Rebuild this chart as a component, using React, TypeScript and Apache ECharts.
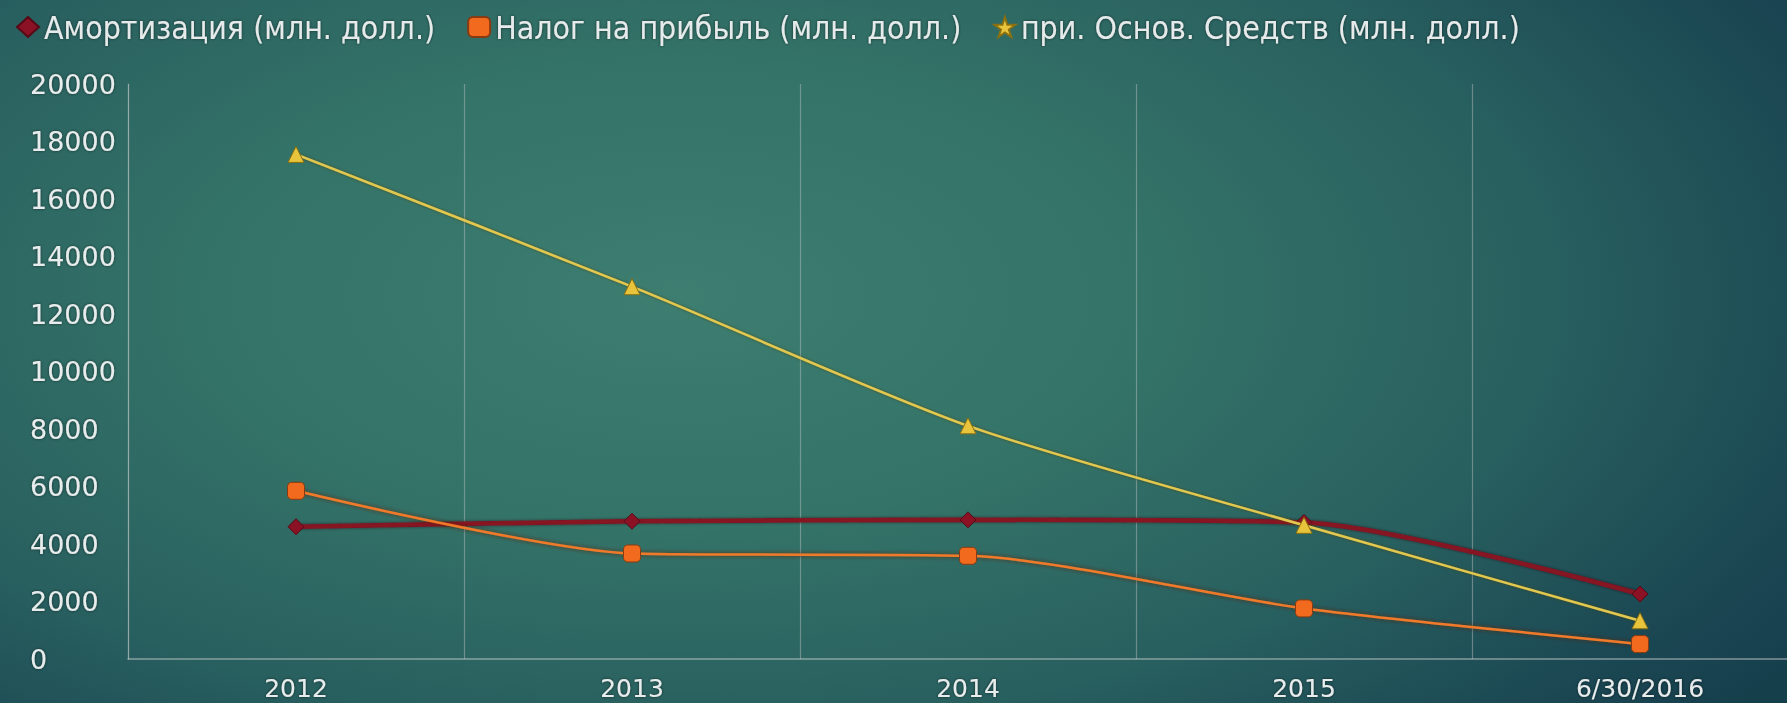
import React, { useEffect, useRef } from "react";
import * as echarts from "echarts";

const categories = ["2012", "2013", "2014", "2015", "6/30/2016"];
const amortization = [4600, 4790, 4840, 4750, 2260];
const incomeTax = [5850, 3670, 3590, 1760, 520];
const fixedAssets = [17550, 12950, 8110, 4650, 1330];
const yTicks = { min: 0, max: 20000, interval: 2000 };

const seriesNames = [
  "Амортизация (млн. долл.)",
  "Налог на прибыль (млн. долл.)",
  "при. Основ. Средств (млн. долл.)",
];

const starPath =
  "path://M50,0 L61,35 L98,35 L68,57 L79,91 L50,70 L21,91 L32,57 L2,35 L39,35 Z";

export default function App() {
  const ref = useRef<HTMLDivElement>(null);

  useEffect(() => {
    document.body.style.margin = "0";
    document.body.style.overflow = "hidden";
    const chart = echarts.init(ref.current!, undefined, { renderer: "svg" });
    const shadow = {
      textShadowColor: "rgba(0,0,0,0.55)",
      textShadowBlur: 3,
    };
    chart.setOption({
      animation: false,
      backgroundColor: "transparent",
      legend: {
        left: 16,
        top: 11,
        padding: 0,
        itemGap: 32,
        itemWidth: 22,
        itemHeight: 20,
        textStyle: {
          color: "#e6eaea",
          fontSize: 31.8,
          fontFamily: "DejaVu Sans Condensed, DejaVu Sans",
          ...shadow,
        },
        data: [
          { name: seriesNames[0], icon: "diamond" },
          { name: seriesNames[1], icon: "roundRect" },
          { name: seriesNames[2], icon: starPath },
        ],
      },
      grid: { left: 128, right: 0, top: 84, bottom: 44, containLabel: false },
      xAxis: {
        type: "category",
        data: categories,
        boundaryGap: true,
        axisTick: { show: false },
        axisLine: { lineStyle: { color: "rgba(200,205,205,0.6)", width: 1.5 } },
        splitLine: {
          show: true,
          lineStyle: { color: "rgba(190,195,195,0.45)", width: 1.2 },
        },
        axisLabel: {
          color: "#e8ecec",
          fontSize: 25,
          fontFamily: "DejaVu Sans",
          margin: 17,
          interval: 0,
          ...shadow,
        },
      },
      yAxis: {
        type: "value",
        min: yTicks.min,
        max: yTicks.max,
        interval: yTicks.interval,
        axisLine: { show: true, lineStyle: { color: "rgba(190,195,195,0.5)", width: 1.2 } },
        axisTick: { show: false },
        splitLine: { show: false },
        axisLabel: {
          color: "#e8ecec",
          fontSize: 27,
          fontFamily: "DejaVu Sans",
          align: "left",
          margin: 98,
          formatter: (v: number) => String(v),
          ...shadow,
        },
      },
      series: [
        {
          name: seriesNames[0],
          type: "line",
          data: amortization,
          smooth: 0.25,
          symbol: "diamond",
          symbolSize: 16,
          z: 3,
          itemStyle: { color: "#8a1224", borderColor: "#550a16", borderWidth: 1 },
          lineStyle: {
            color: "#861224",
            width: 4.5,
            shadowColor: "rgba(40,0,0,0.6)",
            shadowBlur: 3,
          },
        },
        {
          name: seriesNames[1],
          type: "line",
          data: incomeTax,
          smooth: 0.25,
          symbol: "roundRect",
          symbolSize: 17,
          z: 4,
          itemStyle: { color: "#f26a1e", borderColor: "#8a3a10", borderWidth: 1 },
          lineStyle: {
            color: "#f07a2a",
            width: 2.5,
            shadowColor: "rgba(90,30,0,0.9)",
            shadowBlur: 4,
          },
        },
        {
          name: seriesNames[2],
          type: "line",
          data: fixedAssets,
          smooth: 0.25,
          symbol: "triangle",
          symbolSize: 16,
          z: 5,
          itemStyle: { color: "#e8c43c", borderColor: "#8a7010", borderWidth: 1 },
          lineStyle: {
            color: "#e2c850",
            width: 2.5,
            shadowColor: "rgba(70,60,0,0.8)",
            shadowBlur: 3,
          },
        },
      ],
    });
    return () => chart.dispose();
  }, []);

  return (
    <div
      style={{
        position: "fixed",
        left: 0,
        top: 0,
        width: 1787,
        height: 703,
        overflow: "hidden",
        background:
          "radial-gradient(ellipse 75% 95% at 38% 42%, #3d7e71 0%, #347368 35%, #285f5f 65%, #1a4652 90%, #163f4c 100%)",
      }}
    >
      <div ref={ref} style={{ width: 1808, height: 703 }} />
    </div>
  );
}
